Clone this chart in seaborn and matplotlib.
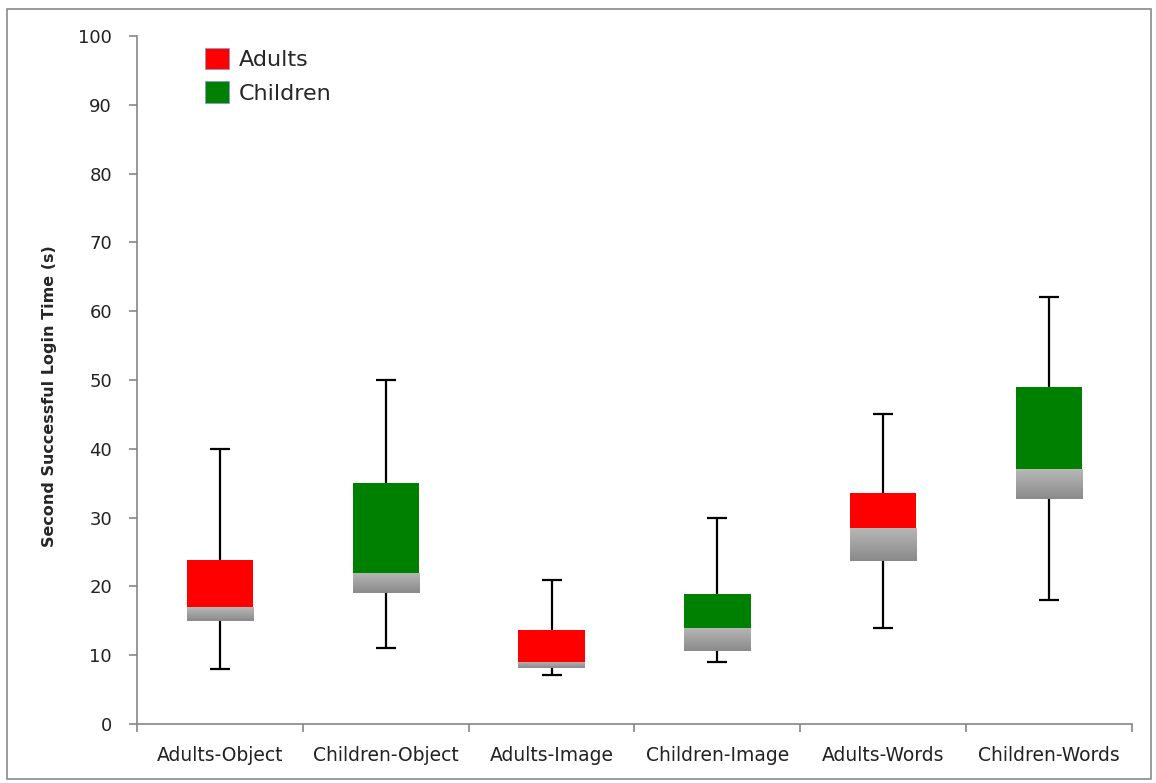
import numpy as np
import pandas as pd
import matplotlib
matplotlib.use('Agg')
import matplotlib.pyplot as plt
import seaborn as sns
from matplotlib.patches import Patch, Rectangle

# values
categories = ['Adults-Object', 'Children-Object', 'Adults-Image',
              'Children-Image', 'Adults-Words', 'Children-Words']
groups = ['Adults', 'Children', 'Adults', 'Children', 'Adults', 'Children']
whisker_low = [8.0, 11.0, 7.1, 9.0, 14.0, 18.0]
q1 = [15.0, 19.0, 8.1, 10.6, 23.7, 32.7]
median = [17.0, 22.0, 9.0, 14.0, 28.5, 37.0]
q3 = [23.8, 35.0, 13.7, 18.9, 33.6, 49.0]
whisker_high = [40.0, 50.0, 21.0, 30.0, 45.0, 62.0]

colors = {'Adults': '#ff0000', 'Children': '#008000'}

df = pd.DataFrame({'cat': categories, 'group': groups, 'low': whisker_low,
                   'q1': q1, 'median': median, 'q3': q3, 'high': whisker_high})
df['lower_h'] = df['median'] - df['q1']
df['upper_h'] = df['q3'] - df['median']

sns.set_style('white')
plt.rcParams['font.family'] = ['DejaVu Sans']

fig = plt.figure(figsize=(11.56, 7.83), dpi=100)
ax = fig.add_axes([137 / 1156, 59 / 783, 995 / 1156, 688 / 783])

# whiskers (drawn below the boxes)
ax.errorbar(x=np.arange(len(df)), y=df['median'],
            yerr=[df['median'] - df['low'], df['high'] - df['median']],
            fmt='none', ecolor='black', elinewidth=1.6, capsize=7.5,
            capthick=1.6, zorder=1)

# lower part of the box (gray gradient)
sns.barplot(data=df, x='cat', y='lower_h', bottom=df['q1'], color='#a0a0a0',
            width=0.4, linewidth=0, ax=ax, zorder=2)
gray_patches = list(ax.patches)

# upper part of the box (group colour)
sns.barplot(data=df, x='cat', y='upper_h', bottom=df['median'], color='#ff0000',
            saturation=1, width=0.4, linewidth=0, ax=ax, zorder=2)
upper_patches = ax.patches[len(gray_patches):]
for p, g in zip(upper_patches, df['group']):
    p.set_facecolor(colors[g])

grad = np.linspace(0, 1, 64).reshape(-1, 1)
cmap = matplotlib.colors.LinearSegmentedColormap.from_list('g', ['#b8b8b8', '#8a8a8a'])
for p in gray_patches:
    x0, y0 = p.get_x(), p.get_y()
    im = ax.imshow(grad, cmap=cmap, aspect='auto', origin='upper',
                   extent=[x0, x0 + p.get_width(), y0, y0 + p.get_height()],
                   zorder=2.5, interpolation='bicubic')
    im.set_clip_path(p)

ax.set_xlim(-0.5, len(df) - 0.5)
ax.set_ylim(0, 100)
ax.set_yticks(range(0, 101, 10))
ax.set_xticks(np.arange(-0.5, len(df), 1.0), minor=True)
ax.tick_params(axis='x', which='major', bottom=False, length=0, pad=16,
               labelsize=13.5, colors='#222222')
ax.tick_params(axis='x', which='minor', bottom=True, length=6, color='#868686', width=1.2)
ax.tick_params(axis='y', left=True, length=6, color='#868686', width=1.2, labelsize=13,
               labelcolor='#222222', pad=12)
ax.set_xlabel('')
ax.set_ylabel('Second Successful Login Time (s)', fontsize=11.5, fontweight='bold')
ax.yaxis.set_label_coords(-0.080, 0.477)
for s in ['top', 'right']:
    ax.spines[s].set_visible(False)
for s in ['left', 'bottom']:
    ax.spines[s].set_color('#868686')
    ax.spines[s].set_linewidth(1.2)

handles = [Patch(facecolor=colors[g], edgecolor='#8899cc', linewidth=0.6, label=g)
           for g in ['Adults', 'Children']]
fig.legend(handles=handles, loc='upper left', bbox_to_anchor=(185 / 1156, 1 - 28 / 783),
           frameon=False, fontsize=16, handlelength=1.1, handleheight=1.1,
           handletextpad=0.4, labelspacing=0.5)

fig.patches.append(Rectangle((7 / 1156, 4 / 783), 1144 / 1156, 770 / 783,
                             transform=fig.transFigure, fill=False,
                             edgecolor='#8a8a8a', linewidth=1.2))

fig.savefig('out.png', dpi=100)
